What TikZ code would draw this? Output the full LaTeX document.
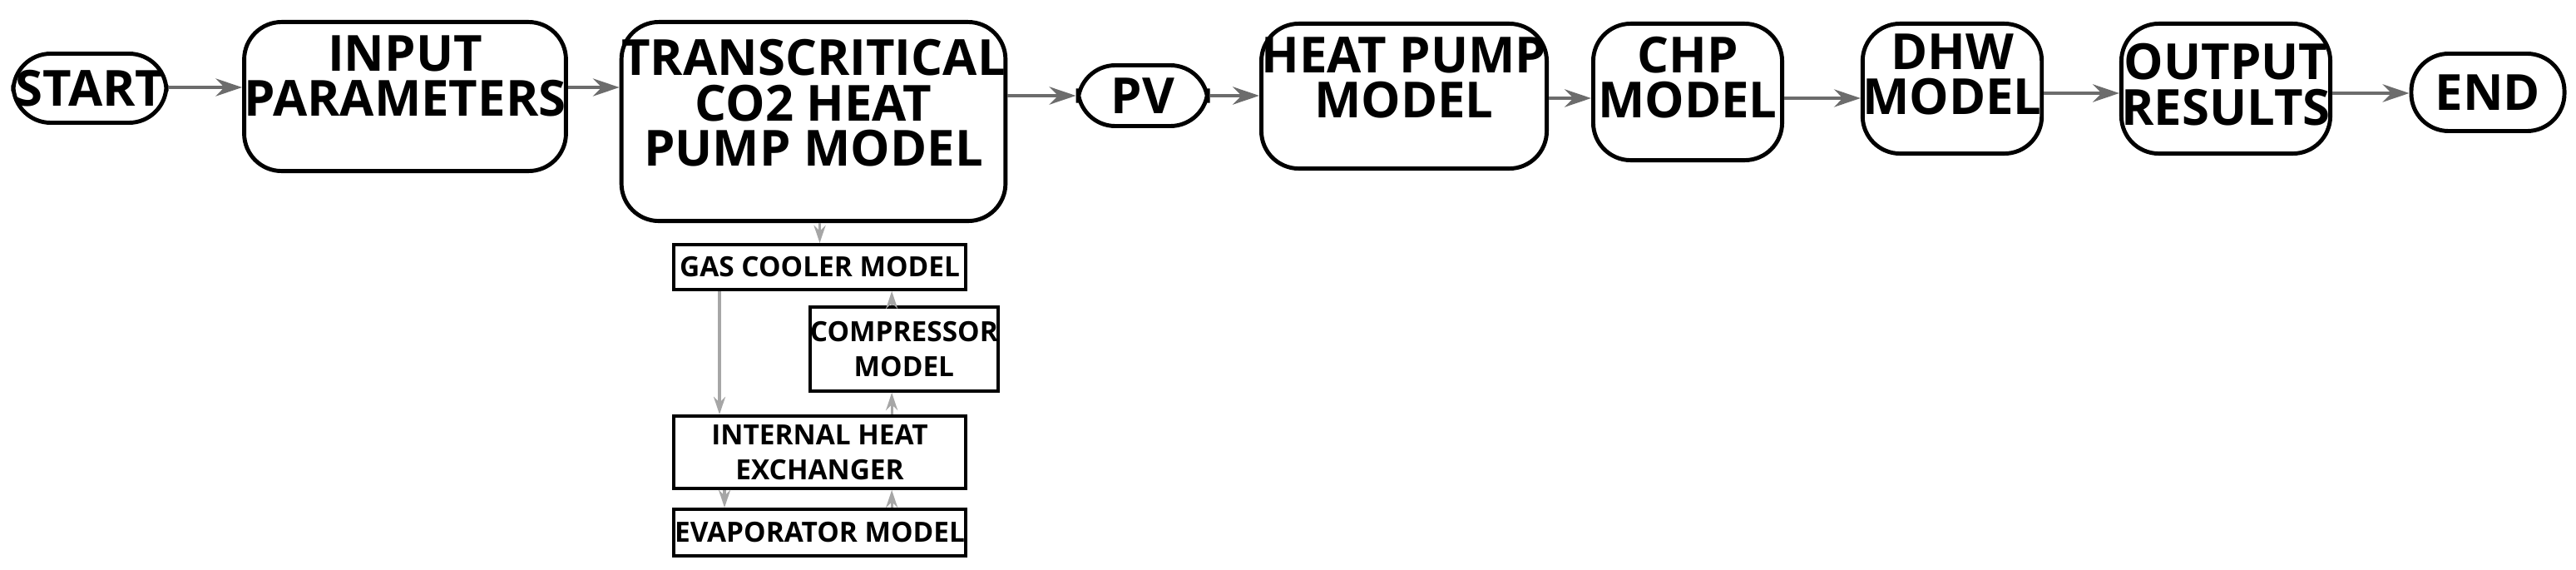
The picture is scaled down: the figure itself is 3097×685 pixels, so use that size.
\documentclass[tikz,border=0pt]{standalone}
\usepackage{fontspec}
\setmainfont{Open Sans}
\usetikzlibrary{arrows.meta,calc}
\begin{document}
\begin{tikzpicture}[x=0.01cm,y=-0.01cm,
  big/.style={draw,line width=1.4pt,rounded corners=0.45cm,inner sep=0pt,font=\fontsize{17}{20}\selectfont\bfseries,align=center},
  small/.style={draw,line width=1.1pt,inner sep=0pt,font=\fontsize{9.5}{12}\selectfont\bfseries,align=center},
  arr/.style={draw=gray!85!black,line width=1.3pt,-{Stealth[length=9pt,width=6pt]}},
  sarr/.style={draw=gray!70,line width=0.9pt,-{Stealth[length=6pt,width=4pt]}}]
\useasboundingbox (0,0) rectangle (3097,685);
\node[big,minimum width=1.84cm,minimum height=0.83cm] (start) at (108,106) {START};
\node[big,minimum width=3.46cm,minimum height=1.79cm,anchor=north] (inp) at (487,24) {\raisebox{0.5cm}{\shortstack{INPUT\\PARAMETERS}}};
\node[big,minimum width=4.17cm,minimum height=2.39cm,anchor=north] (tr) at (978,24) {\raisebox{0.45cm}{\shortstack{TRANSCRITICAL\\CO2 HEAT\\PUMP MODEL}}};
\node[big,minimum width=1.56cm,minimum height=0.73cm] (pv) at (1374,115) {PV};
\node[big,minimum width=3.10cm,minimum height=1.74cm,anchor=north] (hp) at (1688,26) {\raisebox{0.45cm}{\shortstack{HEAT PUMP\\MODEL}}};
\node[big,minimum width=2.27cm,minimum height=1.64cm,anchor=north] (chp) at (2029,26) {\raisebox{0.35cm}{\shortstack{CHP\\MODEL}}};
\node[big,minimum width=2.11cm,minimum height=1.56cm,anchor=north] (dhw) at (2347,26) {\raisebox{0.35cm}{\shortstack{DHW\\MODEL}}};
\node[big,minimum width=2.18cm,minimum height=1.56cm,anchor=north] (out) at (2676,26) {\raisebox{0.1cm}{\shortstack{OUTPUT\\RESULTS}}};
\node[big,minimum width=1.84cm,minimum height=0.93cm] (end) at (2991,111) {END};
\node[small,minimum width=3.51cm,minimum height=0.54cm,anchor=north west] (gc) at (808,292) {GAS COOLER MODEL};
\node[small,minimum width=2.13cm,minimum height=1.01cm,anchor=north west] (cmp) at (972,367) {COMPRESSOR\\MODEL};
\node[small,minimum width=3.51cm,minimum height=0.87cm,anchor=north west] (ihx) at (808,498) {INTERNAL HEAT\\EXCHANGER};
\node[small,minimum width=3.51cm,minimum height=0.56cm,anchor=north west] (ev) at (808,610) {EVAPORATOR MODEL};
\draw[arr] (start.east |- 0,105) -- (inp.west |- 0,105);
\draw[arr] (inp.east |- 0,105) -- (tr.west |- 0,105);
\draw[arr] (tr.east |- 0,115) -- (pv.west |- 0,115);
\draw[arr] (pv.east |- 0,115) -- (hp.west |- 0,115);
\draw[arr] (hp.east |- 0,118) -- (chp.west |- 0,118);
\draw[arr] (chp.east |- 0,118) -- (dhw.west |- 0,118);
\draw[arr] (dhw.east |- 0,112) -- (out.west |- 0,112);
\draw[arr] (out.east |- 0,112) -- (end.west |- 0,112);
\draw[sarr] (tr.south -| gc.north) -- (gc.north);
\draw[sarr] ([xshift=0.57cm]gc.south west) -- ([xshift=0.57cm]ihx.north west);
\draw[sarr] ([xshift=0.63cm]ihx.south west) -- ([xshift=0.63cm]ev.north west);
\draw[sarr] ([xshift=2.64cm]ev.north west) -- ([xshift=2.64cm]ihx.south west);
\draw[sarr] ([xshift=2.64cm]ihx.north west) -- ([xshift=2.64cm]gc.south west |- cmp.south);
\draw[sarr] ([xshift=2.64cm]gc.south west |- cmp.north) -- ([xshift=2.64cm]gc.south west);
\end{tikzpicture}
\end{document}
